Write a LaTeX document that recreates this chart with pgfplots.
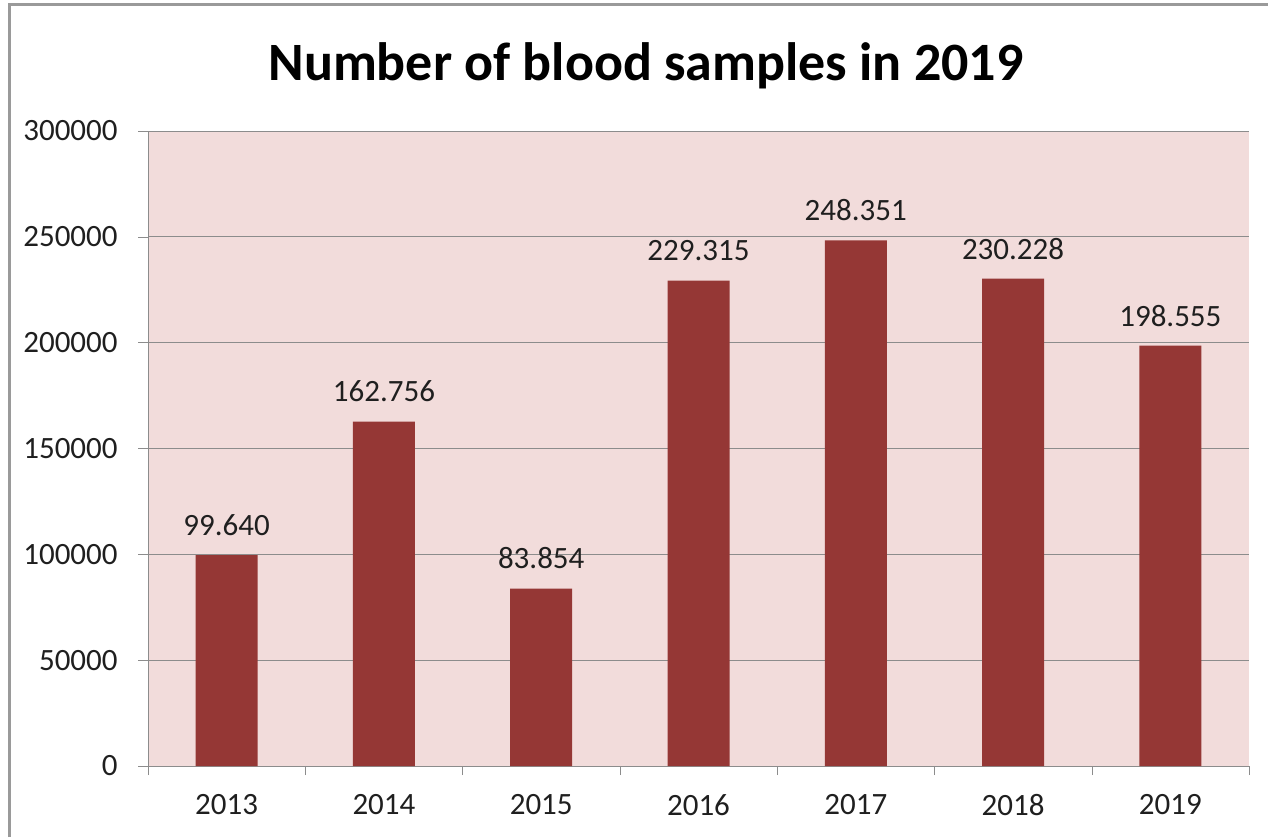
\documentclass[border=0pt]{standalone}
\usepackage{pgfplots}
\pgfplotsset{compat=1.18}
\usepackage{fontspec}
\setmainfont{Carlito}
\definecolor{barred}{HTML}{953735}
\definecolor{plotbg}{HTML}{F2DCDB}
\definecolor{gridgray}{HTML}{8C8C8C}
\definecolor{framegray}{HTML}{9A9A9A}
\definecolor{txt}{HTML}{1F1F1F}

\begin{document}
\begin{tikzpicture}
\useasboundingbox (0,0) rectangle (634pt,418.5pt);
\draw[framegray, line width=1.5pt] (4.5pt,0) -- (4.5pt,416.25pt) -- (634pt,416.25pt);
\node[font=\fontsize{27}{32}\selectfont\bfseries] at (323pt,385.5pt) {Number of blood samples in 2019};
\begin{axis}[
  at={(74pt,35.5pt)}, anchor=south west,
  scale only axis, width=550.5pt, height=317.5pt,
  xmin=-0.5, xmax=6.5, ymin=0, ymax=300000,
  axis background/.style={fill=plotbg},
  axis x line=bottom, axis y line=left,
  axis line style={-, draw=gridgray},
  scaled y ticks=false,
  ytick={0,50000,100000,150000,200000,250000,300000},
  yticklabels={0,50000,100000,150000,200000,250000,300000},
  ymajorgrids, grid style={draw=gridgray},
  tick align=outside,
  tick style={draw=gridgray},
  major tick length=5pt,
  xtick={0,...,6},
  xticklabels={2013,2014,2015,2016,2017,2018,2019},
  x tick style={draw=none},
  minor xtick={-0.5,0.5,...,6.5},
  minor x tick style={draw=gridgray},
  minor tick length=4.5pt,
  ticklabel style={font=\fontsize{15.5}{18}\selectfont, text=txt},
  yticklabel style={inner sep=0pt, xshift=-10pt},
  xticklabel style={inner sep=0pt, yshift=-9pt},
  ybar, bar width=31pt,
  point meta=explicit symbolic,
  nodes near coords,
  every node near coord/.append style={font=\fontsize{15.5}{18}\selectfont, text=txt, anchor=south, inner sep=0pt, yshift=9.5pt},
]
\addplot[fill=barred, draw=none] coordinates {
  (0,99640) [99.640]
  (1,162756) [162.756]
  (2,83854) [83.854]
  (3,229315) [229.315]
  (4,248351) [248.351]
  (5,230228) [230.228]
  (6,198555) [198.555]
};
\end{axis}
\end{tikzpicture}
\end{document}
